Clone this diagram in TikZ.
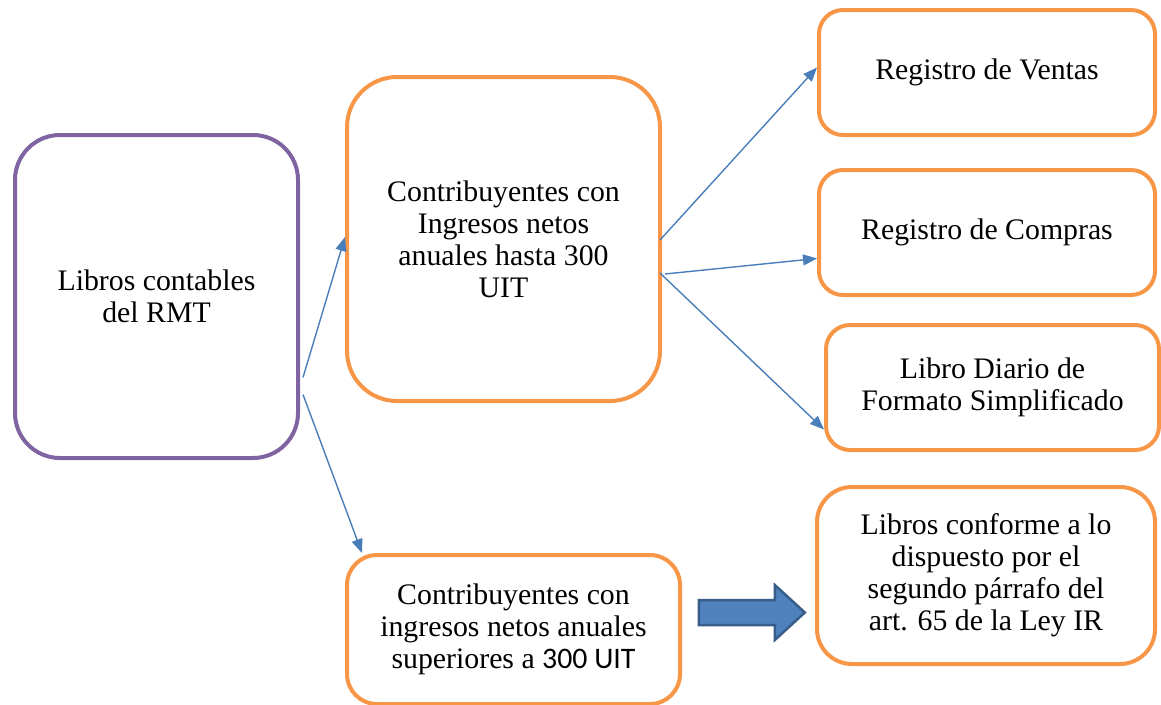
\documentclass[tikz,border=0pt]{standalone}
\usepackage{fontspec}
\setmainfont{Liberation Serif}
\newfontfamily\calibrifont{Carlito}
\usetikzlibrary{arrows.meta,shapes.arrows}
\definecolor{boxorange}{HTML}{F79646}
\definecolor{boxpurple}{HTML}{8064A2}
\definecolor{linkblue}{HTML}{4A7EBB}
\definecolor{arrowfill}{HTML}{4F81BD}
\definecolor{arrowedge}{HTML}{385D8A}

\begin{document}
\begin{tikzpicture}[x=1pt,y=-1pt,
	rmtbox/.style={draw=boxpurple,line width=4pt,rounded corners=45pt,align=center},
	orangebox/.style={draw=boxorange,line width=4pt,align=center},
	link/.style={draw=linkblue,line width=1.4pt,-{Triangle[length=14pt,width=11pt]}},
	fatarrow/.style={single arrow,draw=arrowedge,fill=arrowfill,line width=2.5pt,inner xsep=0pt,inner ysep=11.25pt,
		minimum height=106pt,single arrow head extend=15pt,single arrow tip angle=85}]
	\useasboundingbox (0,0) rectangle (1161,704);
	\fontsize{29.8}{32}\selectfont
	 \node at (156.5,296.5) [rmtbox,minimum width=283pt,minimum height=323pt] (rmt) {Libros contables\\del RMT};
	 \node at (503.5,239) [orangebox,rounded corners=50pt,minimum width=313pt,minimum height=324pt] (hasta) {Contribuyentes con\\Ingresos netos\\anuales hasta 300\\UIT};
	 \node at (513.5,629.5) [orangebox,rounded corners=30pt,minimum width=333pt,minimum height=149pt] (superiores) {Contribuyentes con\\ingresos netos anuales\\superiores a {\calibrifont 300 UIT}};
	 \node at (987,72.5) [orangebox,rounded corners=24pt,minimum width=336pt,minimum height=125pt] (ventas) {Registro de Ventas};
	 \node at (987,232.5) [orangebox,rounded corners=24pt,minimum width=336pt,minimum height=125pt] (compras) {Registro de Compras};
	 \node at (992.5,387.5) [orangebox,rounded corners=24pt,minimum width=333pt,minimum height=125pt] (diario) {Libro Diario de\\Formato Simplificado};
	 \node at (986,575.5) [orangebox,rounded corners=35pt,minimum width=338pt,minimum height=177pt] (conforme) {Libros conforme a lo\\dispuesto por el\\segundo p\'arrafo del\\art. 65 de la Ley IR};
	 \node at (745,612.5) [fatarrow] (paso) {};

	 \draw[link] ([xshift=3pt,yshift=-81pt]rmt.east) -- ([yshift=2pt]hasta.west);
	 \draw[link] ([xshift=3pt,yshift=-98pt]rmt.east) -- ([xshift=17pt]superiores.north west);
	 \draw[link] ([xshift=-2pt,yshift=-1pt]hasta.east) -- ([yshift=5pt]ventas.west);
	 \draw[link] ([xshift=3pt,yshift=-35pt]hasta.east) -- ([yshift=-26pt]compras.west);
	 \draw[link] ([xshift=-2pt,yshift=-34pt]hasta.east) -- ([yshift=-42pt]diario.west);
\end{tikzpicture}
\end{document}
